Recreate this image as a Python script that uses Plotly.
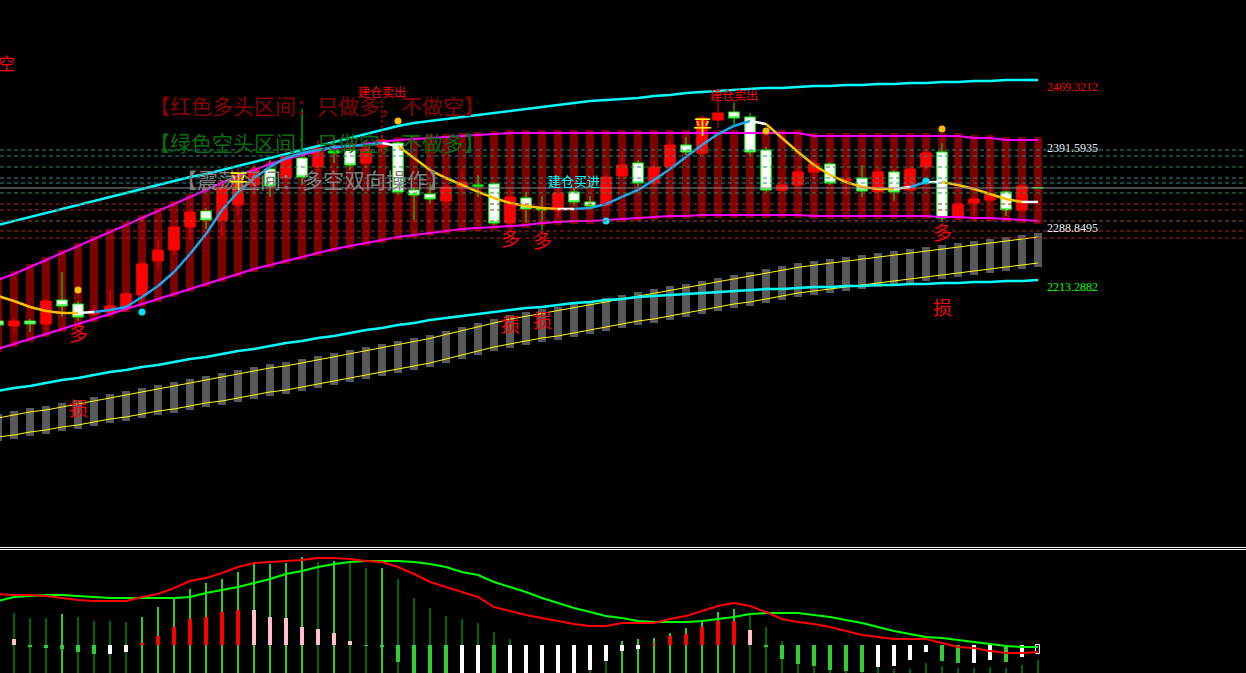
import plotly.graph_objects as go

# ---------------- data ----------------
bars = list(range(66))

opens = [2170.3, 2163.9, 2170.3, 2166.5, 2197.1, 2192.0, 2179.2, 2181.8, 2186.9, 2203.5,
         2246.9, 2260.9, 2290.3, 2310.7, 2299.2, 2318.4, 2343.9, 2364.3, 2352.8, 2378.3,
         2366.9, 2387.3, 2388.6, 2372.0, 2392.4, 2397.5, 2337.5, 2332.4, 2323.5, 2341.3,
         2343.9, 2345.2, 2295.4, 2327.3, 2314.5, 2312.0, 2335.0, 2322.2, 2318.4, 2355.4,
         2372.0, 2346.4, 2366.9, 2394.9, 2384.7, 2426.8, 2437.1, 2430.7, 2388.6, 2337.5,
         2343.9, 2360.5, 2370.7, 2349.0, 2352.8, 2335.0, 2360.5, 2337.5, 2366.9, 2386.0,
         2301.8, 2320.9, 2324.7, 2335.0, 2312.0, 2340.1]
highs = [2172.9, 2174.1, 2172.9, 2198.4, 2232.8, 2195.8, 2190.7, 2209.9, 2207.3, 2245.6,
         2275.0, 2291.6, 2310.7, 2314.5, 2346.4, 2369.4, 2372.0, 2375.8, 2388.6, 2440.9,
         2401.3, 2405.1, 2393.7, 2401.3, 2407.7, 2401.3, 2341.3, 2345.2, 2347.7, 2361.8,
         2356.6, 2347.7, 2337.5, 2335.0, 2329.8, 2341.3, 2340.1, 2329.8, 2356.6, 2387.3,
         2375.8, 2374.5, 2400.0, 2405.1, 2433.2, 2456.2, 2448.5, 2435.8, 2392.4, 2356.6,
         2368.1, 2375.8, 2373.2, 2361.8, 2369.4, 2365.6, 2363.0, 2366.9, 2388.6, 2397.5,
         2322.2, 2328.6, 2351.5, 2336.2, 2346.4, 2341.3]
lows = [2162.7, 2155.0, 2156.3, 2158.8, 2175.4, 2170.3, 2176.7, 2180.5, 2181.8, 2194.6,
        2236.7, 2254.5, 2273.7, 2287.7, 2277.5, 2305.6, 2331.1, 2328.6, 2343.9, 2343.9,
        2360.5, 2372.0, 2363.0, 2365.6, 2388.6, 2331.1, 2299.2, 2319.6, 2314.5, 2331.1,
        2328.6, 2292.8, 2292.8, 2295.4, 2286.5, 2301.8, 2317.1, 2314.5, 2315.8, 2354.1,
        2341.3, 2340.1, 2363.0, 2382.2, 2382.2, 2416.6, 2420.5, 2382.2, 2335.0, 2333.7,
        2340.1, 2350.3, 2343.9, 2331.1, 2328.6, 2324.7, 2323.5, 2335.0, 2361.8, 2296.7,
        2299.2, 2305.6, 2322.2, 2304.3, 2309.4, 2339.4]
closes = [2165.2, 2170.3, 2166.5, 2195.8, 2189.5, 2175.4, 2183.1, 2189.5, 2204.8, 2243.1,
          2260.9, 2290.3, 2309.4, 2299.2, 2340.1, 2355.4, 2363.0, 2342.6, 2379.6, 2354.1,
          2391.1, 2384.7, 2369.4, 2389.8, 2401.3, 2335.0, 2331.1, 2326.0, 2341.3, 2347.7,
          2342.6, 2295.4, 2328.6, 2313.3, 2312.0, 2333.7, 2322.2, 2317.1, 2354.1, 2369.4,
          2346.4, 2366.9, 2394.9, 2386.0, 2429.4, 2435.8, 2429.4, 2386.0, 2337.5, 2343.9,
          2360.5, 2370.7, 2346.4, 2351.5, 2336.2, 2360.5, 2335.0, 2364.3, 2384.7, 2301.8,
          2319.6, 2326.0, 2332.4, 2312.0, 2342.6, 2340.6]
# R = red (up), W = hollow/white (down), D = green doji
candle_kind = "WRWRWWRRRRRRRWRRRWRWRDWRRWWWRRDWRWDRWWRRWRRWRRWWWRRRWRWRWRRWRRRWRD"

ma_line = [2202.2, 2195.8, 2188.2, 2183.1, 2180.5, 2180.5, 2181.8, 2184.3, 2188.2, 2200.9,
           2215.0, 2232.8, 2255.8, 2281.3, 2312.0, 2335.0, 2352.8, 2366.9, 2378.3, 2384.7,
           2388.6, 2392.4, 2393.7, 2394.9, 2397.5, 2393.7, 2378.3, 2363.0, 2352.8, 2343.9,
           2335.0, 2327.3, 2320.9, 2317.1, 2314.5, 2313.3, 2313.3, 2314.5, 2319.6, 2328.6,
           2337.5, 2350.3, 2364.3, 2379.6, 2394.9, 2408.9, 2419.2, 2425.6, 2421.7, 2403.9,
           2386.0, 2369.4, 2356.6, 2347.7, 2341.3, 2338.8, 2338.8, 2341.3, 2347.7, 2347.7,
           2343.9, 2338.8, 2332.4, 2326.0, 2322.2, 2322.2]
# segment state: d = falling (gold), u = rising (blue), f = turning (white)
ma_state = ("dddddf" + "uuuuuuuuuuuuuuuuuu" + "f" + "dddddddddd" + "f" +
            "uuuuuuuuuuu" + "f" + "dddddddd" + "f" + "u" + "f" + "ddddd" + "f")

upper_mag = [2222.6, 2230.3, 2239.2, 2248.2, 2257.1, 2266.0, 2275.0, 2283.9, 2292.8, 2301.8,
             2310.7, 2319.6, 2328.6, 2337.5, 2346.4, 2355.4, 2363.0, 2370.7, 2377.1, 2382.2,
             2387.3, 2391.1, 2393.7, 2396.2, 2398.8, 2401.3, 2402.6, 2403.9, 2405.1, 2406.4,
             2407.7, 2409.0, 2410.3, 2410.3, 2410.3, 2410.3, 2410.3, 2410.3, 2410.3, 2410.3,
             2410.3, 2410.3, 2410.3, 2410.3, 2410.3, 2410.3, 2410.3, 2410.3, 2410.3, 2410.3,
             2410.3, 2406.4, 2406.4, 2406.4, 2406.4, 2406.4, 2406.4, 2406.4, 2406.4, 2406.4,
             2406.4, 2403.9, 2403.9, 2401.3, 2401.3, 2401.3]
lower_mag = [2134.6, 2141.0, 2147.3, 2153.7, 2160.1, 2166.5, 2172.9, 2179.2, 2185.6, 2192.0,
             2198.4, 2204.8, 2211.1, 2217.5, 2223.9, 2230.3, 2236.7, 2241.8, 2246.9, 2252.0,
             2257.1, 2262.2, 2266.0, 2269.9, 2273.7, 2277.5, 2280.1, 2282.6, 2285.2, 2287.7,
             2289.0, 2290.3, 2291.6, 2292.8, 2295.4, 2296.7, 2297.9, 2297.9, 2299.2, 2300.5,
             2301.8, 2303.0, 2304.3, 2304.3, 2305.6, 2305.6, 2305.6, 2305.6, 2305.6, 2305.6,
             2305.6, 2304.3, 2304.3, 2304.3, 2304.3, 2304.3, 2304.3, 2304.3, 2304.3, 2303.0,
             2303.0, 2301.8, 2301.8, 2300.5, 2299.2, 2297.9]
upper_cyan = [2292.8, 2297.9, 2303.0, 2308.1, 2313.3, 2318.4, 2323.5, 2328.6, 2333.7, 2338.8,
              2343.9, 2349.0, 2354.1, 2357.9, 2363.0, 2368.1, 2373.2, 2378.3, 2383.5, 2388.6,
              2393.7, 2398.8, 2403.9, 2409.0, 2414.1, 2419.2, 2423.0, 2425.6, 2428.1, 2430.7,
              2433.2, 2435.8, 2438.3, 2440.9, 2443.4, 2446.0, 2448.5, 2451.1, 2452.4, 2453.6,
              2454.9, 2457.5, 2458.8, 2461.3, 2462.6, 2463.9, 2465.1, 2466.4, 2467.7, 2467.7,
              2469.0, 2470.2, 2470.2, 2471.5, 2471.5, 2472.8, 2472.8, 2474.1, 2474.1, 2475.3,
              2475.3, 2476.6, 2476.6, 2477.9, 2477.9, 2477.9]
lower_cyan = [2081.0, 2084.8, 2087.3, 2091.2, 2095.0, 2097.6, 2101.4, 2105.2, 2107.8, 2111.6,
              2114.2, 2118.0, 2121.8, 2124.4, 2128.2, 2132.0, 2134.6, 2138.4, 2142.2, 2144.8,
              2148.6, 2151.2, 2155.0, 2158.8, 2161.4, 2165.2, 2167.8, 2171.6, 2174.1, 2176.7,
              2179.2, 2181.8, 2184.3, 2186.9, 2188.2, 2190.7, 2193.3, 2194.6, 2197.1, 2198.4,
              2200.9, 2202.2, 2203.5, 2204.8, 2206.0, 2207.3, 2208.6, 2209.9, 2211.1, 2211.1,
              2212.4, 2213.7, 2213.7, 2215.0, 2215.0, 2216.3, 2216.3, 2217.5, 2217.5, 2218.8,
              2218.8, 2220.1, 2220.1, 2221.4, 2221.4, 2222.6]
chan_up = [2046.5, 2050.3, 2054.2, 2056.7, 2060.5, 2064.4, 2068.2, 2072.0, 2075.9, 2079.7,
           2083.5, 2087.3, 2091.2, 2095.0, 2098.8, 2102.7, 2106.5, 2110.3, 2112.9, 2116.7,
           2120.5, 2124.4, 2128.2, 2132.0, 2135.8, 2139.7, 2143.5, 2148.0, 2153.1, 2158.2,
           2163.3, 2168.4, 2172.6, 2176.3, 2180.0, 2183.6, 2187.3, 2191.0, 2194.7, 2198.4,
           2202.0, 2205.7, 2209.4, 2213.1, 2216.8, 2220.3, 2224.0, 2227.7, 2231.4, 2235.1,
           2238.7, 2241.5, 2244.1, 2246.6, 2249.2, 2251.7, 2254.3, 2256.8, 2259.4, 2262.1,
           2264.6, 2267.2, 2269.7, 2272.3, 2274.8, 2277.5]
chan_lo = [2022.3, 2024.8, 2028.6, 2031.2, 2035.0, 2037.6, 2041.4, 2045.2, 2047.8, 2051.6,
           2055.4, 2058.0, 2061.8, 2065.7, 2068.2, 2072.0, 2075.9, 2079.7, 2082.2, 2086.1,
           2089.9, 2093.7, 2097.6, 2101.4, 2105.2, 2109.0, 2112.9, 2116.7, 2121.8, 2126.9,
           2132.0, 2137.1, 2141.0, 2144.8, 2148.6, 2151.2, 2155.0, 2158.8, 2162.7, 2166.5,
           2170.3, 2172.9, 2176.7, 2180.5, 2184.3, 2188.2, 2192.0, 2194.6, 2198.4, 2202.2,
           2206.0, 2208.6, 2211.1, 2213.7, 2216.3, 2218.8, 2221.4, 2223.9, 2226.5, 2229.0,
           2231.6, 2234.1, 2236.7, 2239.2, 2241.8, 2244.3]

# horizontal reference levels
levels = [2388.6, 2380.9, 2366.9, 2352.8, 2346.4, 2333.7, 2319.6, 2312.0, 2297.9, 2285.2, 2276.2]
level_colors = ["#2E8B8B", "#2E8B8B", "#2E8B57", "#2E8B8B", "#2E8B8B", "#2E8B57",
                "#B22222", "#B22222", "#A0522D", "#B22222", "#B22222"]
last_price = 2340.1

# right-side price labels
price_labels = [2469.3212, 2391.5935, 2288.8495, 2213.2882]
price_label_colors = ["#FF0000", "#E6EEF5", "#E6EEF5", "#00FF00"]

# signals
buy_bars = [5, 32, 34, 59]
buy_text_price = [2155.0, 2277.5, 2273.7, 2283.9]
stop_price = [2059.3, 2166.5, 2171.6, 2188.2]
close_bars = [15, 44]
close_price = [2350.3, 2419.2]
sell_bars = [24, 46]
sell_text_price = [2462.6, 2458.8]
sell_line_top = [2452.4, 2452.4]
sell_line_bottom = [2379.6, 2437.1]
open_buy_bar = 36
open_buy_price = 2349.0
gold_dot_bars = [5, 25, 48, 59]
gold_dot_price = [2209.9, 2425.6, 2412.8, 2415.4]
cyan_dot_bars = [9, 38, 58]
cyan_dot_price = [2181.8, 2297.9, 2349.0]

# lower indicator panel
osc_red = [51, 50, 50, 49, 47, 45, 44, 44, 44, 48, 51, 57, 64, 67, 72, 78, 82, 83, 84, 85,
           87, 87, 86, 84, 83, 78, 71, 63, 58, 53, 48, 38, 34, 30, 27, 24, 21, 19, 19, 22,
           22, 22, 26, 29, 34, 39, 42, 39, 33, 26, 23, 21, 18, 14, 10, 8, 6, 6, 6, 2,
           -2, -3, -6, -8, -8, -7]
osc_green = [44, 48, 49, 50, 50, 49, 48, 47, 47, 47, 47, 47, 48, 52, 55, 58, 62, 66, 71, 74,
             78, 81, 83, 84, 84, 84, 83, 81, 78, 73, 70, 63, 58, 53, 47, 42, 37, 33, 29, 27,
             24, 23, 23, 23, 24, 26, 28, 31, 32, 32, 32, 30, 28, 25, 22, 18, 14, 11, 8, 7,
             5, 3, 1, -1, -2, -2]
thin_top = [30, 32, 27, 27, 31, 28, 24, 24, 23, 28, 38, 48, 56, 62, 66, 73, 81, 81, 82, 88,
            83, 84, 82, 77, 77, 66, 47, 37, 29, 26, 22, 13, 6, -10, -15, -18, -21, -25, -16, 4,
            6, 7, 12, 17, 24, 33, 36, 30, 18, 4, -19, -21, -25, -26, -27, -22, -24, -24, -18, -21,
            -23, -23, -22, -23, -20, -15]
thin_kind = "ddddgddddg" "gggggggggg" "dgddgddddd" "dddddddddg" "gggggggddd" "dddddddddd" "dddddd"
thick_val = [0, 6, -2, -3, -4, -7, -9, -9, -7, 2, 9, 18, 26, 28, 33, 35, 35, 28, 27, 18,
             16, 12, 4, -1, -2, -17, -30, -30, -30, -30, -30, -30, -30, -30, -30, -30, -30, -25, -16, -6,
             -4, 1, 9, 11, 18, 24, 24, 15, -2, -14, -19, -21, -25, -26, -27, -22, -21, -15, -7, -16,
             -18, -18, -15, -17, -12, -9]
thick_kind = "gpgggggwwr" "rrrrrrpppp" "pppggggggw" "wgwwwwwwww" "wrrrrrrpgg" "gggggwwwwg" "gwwgwo"

# ---------------- styling ----------------
W, H = 1246, 673
FONT_CJK = "Noto Sans CJK SC"
MAIN_RANGE = [1883.1, 2580.0]
MAIN_DOMAIN = [0.1887, 1.0]
SUB_RANGE = [-28, 95]
SUB_DOMAIN = [0.0, 0.18276]
X_RANGE = [0.125, 78.0]
COL_PAD = 3.8
CH_PAD = 5.0

fig = go.Figure()

# dark red band columns
fig.add_trace(go.Bar(
    x=bars, base=[l - COL_PAD for l in lower_mag],
    y=[u - l + 2 * COL_PAD for u, l in zip(upper_mag, lower_mag)],
    width=0.5, marker=dict(color="#800000", line=dict(width=0)),
    xaxis="x", yaxis="y", hoverinfo="skip"))
# gray channel columns
fig.add_trace(go.Bar(
    x=bars, base=[l - CH_PAD for l in chan_lo],
    y=[u - l + 2 * CH_PAD for u, l in zip(chan_up, chan_lo)],
    width=0.5, marker=dict(color="#595959", line=dict(width=0)),
    xaxis="x", yaxis="y", hoverinfo="skip"))

# candles
candle_styles = {"R": ("#FF0000", "#FF0000"), "W": ("#FFFFFF", "#00FF00"), "D": ("#00FF00", "#00FF00")}
for k, (fill, line) in candle_styles.items():
    idx = [i for i in bars if candle_kind[i] == k]
    st = dict(fillcolor=fill, line=dict(color=line, width=1))
    fig.add_trace(go.Candlestick(
        x=idx, open=[opens[i] for i in idx], high=[highs[i] for i in idx],
        low=[lows[i] for i in idx], close=[closes[i] for i in idx],
        increasing=st, decreasing=st, whiskerwidth=0,
        xaxis="x", yaxis="y", hoverinfo="skip"))

# band lines
def add_line(y, color, width):
    fig.add_trace(go.Scatter(x=bars, y=y, mode="lines", line=dict(color=color, width=width),
                             xaxis="x", yaxis="y", hoverinfo="skip"))

add_line(chan_up, "#FFFF00", 1)
add_line(chan_lo, "#FFFF00", 1)
add_line(lower_cyan, "#00FFFF", 2.5)
add_line(upper_cyan, "#00FFFF", 2.5)
add_line(upper_mag, "#FF00FF", 2)
add_line(lower_mag, "#FF00FF", 2)

# colored moving average
ma_colors = {"d": "#FFC000", "u": "#1EA8F0", "f": "#FFFFFF"}
for k, col in ma_colors.items():
    xs, ys = [], []
    for j, s in enumerate(ma_state):
        if s == k:
            xs += [bars[j], bars[j + 1], None]
            ys += [ma_line[j], ma_line[j + 1], None]
    fig.add_trace(go.Scatter(x=xs, y=ys, mode="lines", line=dict(color=col, width=2.5),
                             connectgaps=False, xaxis="x", yaxis="y", hoverinfo="skip"))

# dots
fig.add_trace(go.Scatter(x=gold_dot_bars, y=gold_dot_price, mode="markers",
                         marker=dict(color="#FFC000", size=7), xaxis="x", yaxis="y", hoverinfo="skip"))
fig.add_trace(go.Scatter(x=cyan_dot_bars, y=cyan_dot_price, mode="markers",
                         marker=dict(color="#00E5FF", size=7), xaxis="x", yaxis="y", hoverinfo="skip"))

# lower panel
fig.add_trace(go.Bar(
    x=bars, base=-40, y=[t + 40 for t in thin_top], width=0.12,
    marker=dict(color=["#006400" if c == "d" else "#32CD32" for c in thin_kind], line=dict(width=0)),
    xaxis="x2", yaxis="y2", hoverinfo="skip"))
thick_colors = {"g": "#32CD32", "w": "#FFFFFF", "r": "#FF0000", "p": "#FFC0CB", "o": "#000000"}
fig.add_trace(go.Bar(
    x=bars, y=thick_val, width=0.3,
    marker=dict(color=[thick_colors[c] for c in thick_kind],
                line=dict(color=["#FFFFFF" if c == "o" else thick_colors[c] for c in thick_kind],
                          width=[1 if c == "o" else 0 for c in thick_kind])),
    xaxis="x2", yaxis="y2", hoverinfo="skip"))
fig.add_trace(go.Scatter(x=bars, y=osc_green, mode="lines", line=dict(color="#00FF00", width=2),
                         xaxis="x2", yaxis="y2", hoverinfo="skip"))
fig.add_trace(go.Scatter(x=bars, y=osc_red, mode="lines", line=dict(color="#FF0000", width=2),
                         xaxis="x2", yaxis="y2", hoverinfo="skip"))

# shapes: levels, last price, separators, sell markers
shapes = []
for lv, c in zip(levels, level_colors):
    shapes.append(dict(type="line", xref="paper", x0=0, x1=1, yref="y", y0=lv, y1=lv,
                       line=dict(color=c, width=1, dash="4px,3px"), layer="above"))
shapes.append(dict(type="line", xref="paper", x0=0, x1=1, yref="y", y0=last_price, y1=last_price,
                   line=dict(color="#8C8C96", width=1), layer="above"))
for yp in (0.18648, 0.18351):
    shapes.append(dict(type="line", xref="paper", x0=0, x1=1, yref="paper", y0=yp, y1=yp,
                       line=dict(color="#FFFFFF", width=1), layer="above"))
for b, t, bt in zip(sell_bars, sell_line_top, sell_line_bottom):
    shapes.append(dict(type="line", xref="x", x0=b, x1=b, yref="y", y0=t, y1=bt,
                       line=dict(color="#FF0000", width=1, dash="3px,2px"), layer="above"))

ann = []
def txt(x, y, s, color, size, xref="x", yref="y", xanchor="center", family=FONT_CJK):
    ann.append(dict(x=x, y=y, xref=xref, yref=yref, text=s, showarrow=False,
                    xanchor=xanchor, yanchor="middle",
                    font=dict(color=color, size=size, family=family)))

txt(147 / W, (H - 105) / H, "【红色多头区间：只做多，不做空】", "#8B0000", 21, "paper", "paper", "left")
txt(147 / W, (H - 142) / H, "【绿色空头区间：只做空，不做多】", "#0A6E0A", 21, "paper", "paper", "left")
txt(174 / W, (H - 179) / H, "【震荡区间：多空双向操作】", "#808080", 21, "paper", "paper", "left")
txt(6 / W, (H - 62) / H, "空", "#FF0000", 17, "paper", "paper")

for b, p in zip(buy_bars, buy_text_price):
    txt(b, p, "多", "#FF0000", 19)
for b, p in zip(buy_bars, stop_price):
    txt(b, p, "损", "#FF0000", 19)
for b, p in zip(close_bars, close_price):
    txt(b, p, "平", "#FFFF00", 19)
for b, p in zip(sell_bars, sell_text_price):
    txt(b, p, "建仓卖出", "#FF0000", 12)
txt(open_buy_bar, open_buy_price, "建仓买进", "#00FFFF", 13)

for v, c in zip(price_labels, price_label_colors):
    txt(1045 / W, v, f"{v:.4f}", c, 12, "paper", "y", "left", "Liberation Serif")

fig.update_layout(
    width=W, height=H, margin=dict(l=0, r=0, t=0, b=0, pad=0),
    paper_bgcolor="#000000", plot_bgcolor="#000000",
    showlegend=False, hovermode=False,
    barmode="overlay", bargap=0, boxgap=0.06,
    xaxis=dict(range=X_RANGE, visible=False, rangeslider=dict(visible=False),
               domain=[0, 1], anchor="y", fixedrange=True),
    yaxis=dict(range=MAIN_RANGE, visible=False, domain=MAIN_DOMAIN, anchor="x", fixedrange=True),
    xaxis2=dict(range=X_RANGE, visible=False, domain=[0, 1], anchor="y2", fixedrange=True),
    yaxis2=dict(range=SUB_RANGE, visible=False, domain=SUB_DOMAIN, anchor="x2", fixedrange=True),
    shapes=shapes, annotations=ann,
)

page_fix = ("document.body.style.margin='0';document.body.style.padding='0';"
            "document.body.style.background='#000';document.body.style.overflow='hidden';"
            "document.documentElement.style.overflow='hidden';")
fig.write_html("out.html", config={"displayModeBar": False}, post_script=page_fix)
